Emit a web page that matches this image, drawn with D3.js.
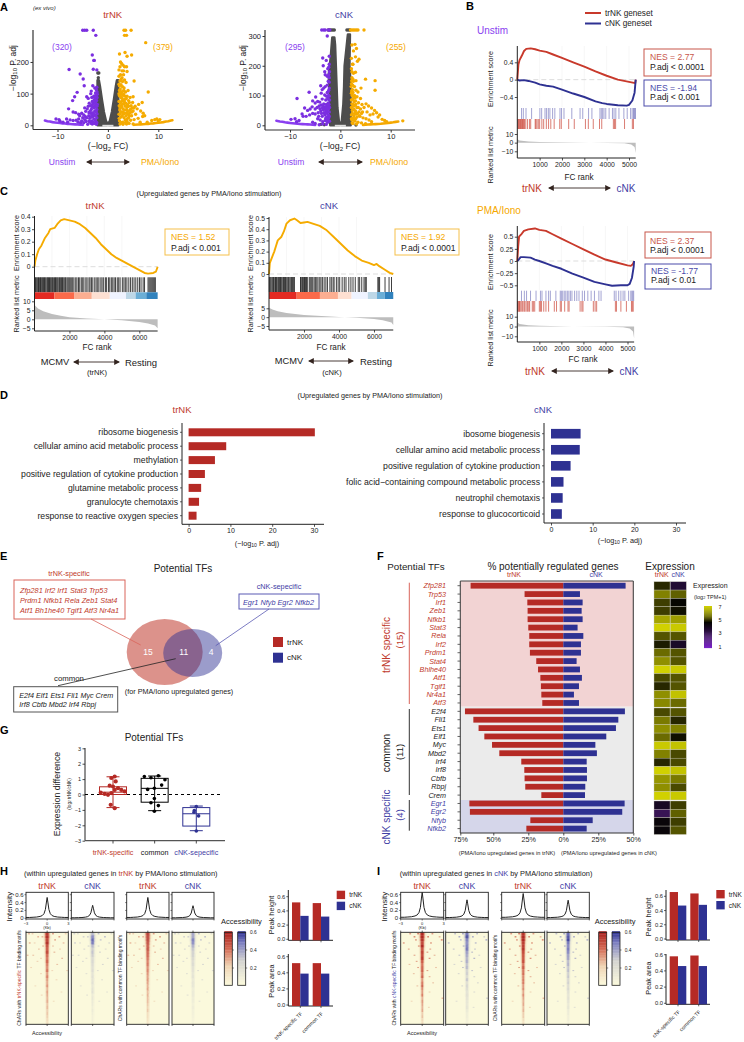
<!DOCTYPE html>
<html><head><meta charset="utf-8">
<script src="https://cdnjs.cloudflare.com/ajax/libs/d3/7.8.5/d3.min.js"></script>
<style>html,body{margin:0;padding:0;background:#fff}svg{display:block}text{font-family:"Liberation Sans",Arial,sans-serif}</style>
</head><body><svg id="c" width="744" height="1042"></svg>
<script>
// ---------- DATA ----------
const trPurple=[[-5,300],[-4.6,300],[-4.2,300],[-2.9,300],[-2.4,284],[-7.7,176],[-5.5,162],[-4.9,146],[-3.1,222],[-2.7,205],[-2.8,205],[-2.2,175],[-2.9,177],[-4.7,125],[-6.1,104],[-6.6,90],[-7,78],[-3.3,108],[-2.2,120],[-3,125],[-2.6,118],[-2.3,112],[-3.4,100],[-4.2,90],[-3.9,85],[-3.2,88],[-2.8,92],[-2.4,95],[-2.1,98],[-7.8,52],[-6.9,42],[-6.4,40],[-5.8,35],[-5.6,30],[-5.2,38],[-4.8,33],[-4.4,44],[-4.5,28],[-4.1,52],[-3.9,60],[-3.7,70],[-3.5,62],[-3.3,50],[-3.1,75],[-3,58],[-2.9,68],[-2.7,80],[-2.6,45],[-2.5,72],[-2.4,58],[-2.3,85],[-2.2,50],[-2.1,66],[-3.8,30],[-3.6,22],[-3.4,38],[-3.2,14],[-3,28],[-2.8,20],[-2.6,32],[-2.4,12],[-2.2,24],[-2.15,36],[-3.6,10],[-4.3,12],[-4.8,8],[-5.4,8],[-2.7,6],[-3.1,4],[-4,3],[-5.8,20],[-6.3,16],[-6.9,15],[-7.5,17],[-8.2,20],[-8.9,10],[-9.7,18],[-10.3,20],[-9.5,13],[-8,10],[-2.15,88],[-2.25,78],[-2.35,68],[-2.55,62],[-2.75,55],[-2.95,40],[-3.15,32],[-3.35,26],[-3.55,44],[-3.75,40],[-2.15,105],[-2.45,102],[-2.65,88],[-2.85,76],[-3.05,66],[-3.25,60],[-2.2,60],[-2.3,42],[-2.45,30],[-2.55,18],[-2.75,36],[-2.95,10],[-3.3,6],[-2.2,8],[-2.3,3],[-4.6,18],[-4.2,24],[-5,24],[-5.2,14],[-5.9,10],[-4.6,55],[-3.7,14]];
const trOrange=[[3.2,300],[3.5,300],[4.6,300],[3.3,284],[3.7,284],[7.5,261],[3.4,230],[2.3,225],[4.7,222],[3.8,218],[2.5,200],[2.7,195],[3,190],[3.3,185],[3.7,185],[2.4,185],[2.2,175],[2.8,172],[3.1,172],[3.8,170],[3.1,160],[2.5,160],[2.2,155],[2.8,150],[3.3,143],[2.4,140],[3.6,135],[2.3,125],[5.2,140],[2.6,128],[2.9,122],[8,105],[3.2,118],[2.3,110],[2.7,105],[3.5,105],[4,110],[3.1,98],[3.8,92],[4.4,88],[2.4,92],[2.8,85],[5,90],[4.9,72],[3.4,82],[4.1,78],[2.5,72],[2.2,75],[3.2,68],[3.9,65],[4.6,62],[5.4,60],[6.1,66],[5.8,52],[6.8,72],[6.5,45],[7,38],[6.9,28],[7.3,30],[5,45],[4.4,48],[3.7,50],[3,52],[2.4,55],[2.7,42],[3.3,38],[4,35],[4.7,30],[5.5,35],[6,22],[5.2,18],[4.5,16],[3.8,20],[3.2,24],[2.6,26],[2.2,35],[2.3,14],[2.9,10],[3.5,8],[4.2,6],[5,4],[3,3],[6.4,10],[8.7,15],[9.3,18],[10,14],[9.7,20],[10.3,18],[7.8,10],[2.2,130],[2.3,95],[2.45,115],[2.55,100],[2.65,88],[2.75,76],[2.85,66],[2.95,95],[3.05,80],[3.15,110],[3.25,75],[3.35,92],[3.45,60],[3.55,70],[3.65,85],[3.75,40],[3.85,58],[3.95,45],[4.1,60],[4.25,72],[4.35,40],[4.55,52],[4.75,42],[4.85,55],[5.15,55],[2.25,62],[2.35,48],[2.45,36],[2.55,62],[2.75,58],[2.85,30],[2.95,42],[3.1,36],[3.3,48],[3.45,16],[3.6,30],[3.8,12],[4.1,24],[4.3,30],[2.25,22],[2.6,8],[2.4,4],[3.7,4],[2.2,100],[2.6,145],[2.9,138],[3,108]];
const trTailL=[[-12.5,15],[-12,13],[-11.5,12],[-11,10],[-10.5,9],[-10,8],[-9.5,7],[-9,6],[-8.5,5.5],[-8,4.5],[-7.5,4],[-7,3.5],[-6.5,3],[-6,2.5],[-5.5,2],[-5,1.5]];
const trTailR=[[5.2,1.5],[6,2.5],[6.5,3],[7,3.5],[7.5,4],[8,4.5],[8.5,5.5],[9,6],[9.5,7],[10,8],[10.5,9],[11,10],[11.5,12],[12,13],[12.5,15],[12.8,16]];
const trGreyL=[[0,2],[-.4,14],[-.8,42],[-1.2,82],[-1.6,125],[-1.8,142],[-2.05,142],[-2.05,0],[-.3,0]];
const trGreyR=[[0,2],[.4,14],[.8,42],[1.2,82],[1.6,125],[1.8,142],[2.05,142],[2.05,0],[.3,0]];
const trGreyDots=[[-1.8,165],[-2,165],[-1.9,150]];
const cnPurple=[[-3.7,320],[-3.3,320],[-3,320],[-2.6,300],[-2.4,320],[-2.1,320],[-3.5,226],[-2.2,232],[-2.8,218],[-2.5,190],[-2.2,205],[-3.4,200],[-3.1,180],[-3,170],[-2.6,165],[-2.3,170],[-8.6,90],[-6.2,111],[-4.9,95],[-3.9,133],[-3.3,125],[-3.6,120],[-3,130],[-2.6,135],[-2.2,145],[-3.8,108],[-3.1,102],[-2.6,110],[-2.3,118],[-5.5,82],[-5,75],[-4.5,80],[-4.1,78],[-3.6,88],[-2.9,85],[-2.5,92],[-2.2,98],[-7.1,58],[-6.5,50],[-6,55],[-5.6,62],[-5,55],[-4.6,60],[-4.2,65],[-3.8,68],[-3.3,72],[-2.8,70],[-2.4,75],[-2.15,60],[-7.6,38],[-7.4,30],[-6.8,30],[-6.1,35],[-5.5,40],[-5,38],[-4.4,42],[-3.9,48],[-3.4,52],[-3,55],[-2.6,48],[-2.2,45],[-3.6,30],[-3.1,35],[-2.7,28],[-2.3,25],[-4.5,22],[-4,18],[-3.5,12],[-3,16],[-2.5,10],[-2.15,14],[-8.2,16],[-9,22],[-9.8,20],[-8.7,12],[-5.5,10],[-5,6],[-3.5,4],[-2.8,3],[-4.2,2],[-2.15,85],[-2.25,70],[-2.35,55],[-2.45,88],[-2.55,65],[-2.65,40],[-2.75,60],[-2.85,50],[-2.95,42],[-3.15,62],[-3.25,42],[-3.45,65],[-3.55,58],[-3.75,40],[-4.05,56],[-4.3,30],[-2.2,30],[-2.35,35],[-2.5,20],[-2.7,14],[-2.9,24],[-2.2,125],[-2.45,112],[-2.75,98],[-2.35,100],[-2.2,160],[-2.4,148],[-2.15,180],[-2.3,195]];
const cnOrange=[[2,320],[2.3,320],[2.6,320],[2.9,320],[3.2,320],[3.5,320],[4.7,320],[2.9,272],[3.2,258],[2.3,270],[2.6,250],[3,230],[2.2,225],[3.4,215],[2.5,205],[3.7,222],[2.2,190],[2.6,175],[3,178],[2.3,160],[3.1,150],[2.6,148],[2.2,140],[6.9,150],[5,155],[6.9,118],[4.1,125],[2.8,130],[3.1,118],[2.4,120],[3.5,112],[2.2,108],[2.8,100],[3.3,96],[4,90],[2.5,88],[3,82],[3.6,76],[2.3,72],[4.3,70],[2.8,66],[3.3,60],[5.1,72],[5.6,65],[6.2,58],[4.7,60],[4,55],[4.4,45],[6.8,50],[7.2,42],[6.5,38],[7.8,35],[7.5,28],[5.3,45],[5.9,35],[3.7,45],[3,48],[2.4,50],[2.2,35],[2.7,32],[3.3,28],[3.9,30],[4.5,25],[5.1,22],[5.7,18],[8.3,20],[8.8,16],[9.2,12],[12.4,15],[2.3,18],[2.9,14],[3.5,10],[2.5,6],[3.2,4],[4.2,8],[6.2,12],[5,5],[2.15,130],[2.25,115],[2.35,100],[2.5,110],[2.65,95],[2.75,80],[2.9,92],[3.05,70],[2.2,85],[2.35,62],[2.55,70],[2.7,55],[2.9,40],[3.15,38],[2.4,40],[2.6,25],[2.2,60],[2.2,22],[2.75,18],[2.35,8],[3.05,22],[3.4,40],[3.55,60],[3.75,32],[4.2,40],[2.25,150],[2.45,135],[2.3,180],[2.5,155],[2.4,205]];
const cnTailL=[[-12.7,15],[-12,13],[-11.5,12],[-11,10],[-10.5,9],[-10,8],[-9.5,7],[-9,6],[-8.5,5.5],[-8,4.5],[-7.5,4],[-7,3.5],[-6.5,3],[-6,2.5],[-5.5,2],[-5,1.5]];
const cnTailR=[[4.5,1.5],[5,2],[5.5,2.5],[6,3],[6.5,3.5],[7,4],[7.5,4.5],[8,5],[8.5,6],[9,7],[9.5,8],[10,9],[10.5,10],[11,11.5],[11.5,12.5]];
const cnGreyL=[[0,2],[-.3,15],[-.6,60],[-.75,130],[-.9,200],[-1.05,270],[-1.2,295],[-1.6,295],[-1.9,230],[-2.3,170],[-2.2,130],[-2.05,100],[-2,0],[-.3,0]];
const cnGreyR=[[0,2],[.3,15],[.6,70],[.75,130],[.85,200],[1.1,240],[1.5,305],[1.9,305],[1.8,200],[2,150],[2.05,0],[.3,0]];
const cnGreyDots=[[-1.2,320],[-1.5,320],[-1.8,320],[-2.1,320],[-2.4,320],[1.3,320],[1.6,320],[1.9,320],[-3.9,3],[-3.2,2],[3.1,1]];

const esUnstimTr=[[0,0],[50,.35],[100,.45],[200,.55],[300,.66],[400,.71],[600,.72],[800,.70],[1000,.67],[1300,.64],[1600,.58],[2000,.50],[2500,.40],[3000,.30],[3500,.19],[4000,.09],[4500,.0],[5000,-.05],[5280,-.08],[5300,0]];
const esUnstimCn=[[0,0],[100,-.02],[300,-.01],[500,-.03],[800,-.07],[1000,-.11],[1300,-.14],[1600,-.16],[2000,-.23],[2500,-.32],[3000,-.40],[3500,-.50],[3800,-.54],[4000,-.56],[4500,-.59],[4900,-.6],[5000,-.58],[5150,-.48],[5250,-.3],[5300,0]];
const esPmaTr=[[0,0],[40,.3],[80,.5],[200,.56],[300,.62],[500,.65],[800,.67],[1000,.64],[1300,.62],[1600,.55],[2000,.46],[2500,.35],[3000,.24],[3500,.13],[4000,.03],[4500,-.03],[5000,-.09],[5150,-.1],[5250,-.06],[5300,0]];
const esPmaCn=[[0,0],[50,.02],[150,.08],[300,.08],[600,.07],[800,.03],[1000,0],[1300,-.05],[1600,-.1],[2000,-.16],[2500,-.26],[3000,-.34],[3500,-.43],[4000,-.48],[4300,-.51],[4700,-.5],[5000,-.5],[5100,-.47],[5200,-.35],[5280,-.12],[5300,0]];
const rugUnstimCn=[190,270,390,640,1010,1090,1240,1310,1390,1460,1580,1680,1910,1980,2090,2440,2810,2930,3190,3340,3700,3760,3820,3880,3960,4110,4260,4330,4410,4550,4770,4920,5070,5140,5200,5230,5260,5290];
const rugUnstimTr=[20,50,80,110,140,170,200,230,260,290,320,380,460,550,600,800,830,880,940,1000,1100,1180,1300,1400,1500,1650,1900,1970,2300,2550,3050,3180,3400,3680,3780,4300,4350,4400,4800,5150,5200];
const rugPmaCn=[190,320,420,600,850,1050,1120,1300,1420,1500,1750,1950,2000,2060,2130,2200,2270,2340,2410,2480,2600,2700,2800,2950,3050,3200,3350,3500,3700,3800,4400,4480,4600,4700,4800,4880,5050,5150,5200,5240,5280];
const rugPmaTr=[10,40,70,100,130,180,240,300,340,400,460,520,560,680,730,790,1000,1050,1100,1200,1300,1420,1680,1780,1950,2000,2150,2300,2350,2850,2930,2980,3450,3530,3600,4450,4500,4700,4950,5180,5220,5260];
const esTrC=[[0,0],[50,.05],[150,.1],[250,.14],[400,.17],[600,.23],[800,.27],[900,.30],[1150,.31],[1300,.34],[1500,.37],[1700,.38],[2000,.37],[2300,.36],[2600,.34],[2900,.31],[3200,.27],[3500,.23],[3800,.18],[4100,.14],[4400,.10],[4700,.07],[5100,.04],[5500,.01],[5900,-.02],[6300,-.05],[6500,-.055],[6800,-.05],[6950,-.04],[7050,0]];
const esCnC=[[0,0],[50,.1],[150,.14],[300,.2],[400,.25],[500,.3],[700,.33],[850,.38],[1000,.45],[1200,.48],[1450,.495],[1600,.48],[1800,.455],[2000,.46],[2200,.465],[2500,.45],[2900,.43],[3300,.39],[3700,.33],[4100,.27],[4500,.21],[4900,.16],[5300,.12],[5700,.10],[6000,.08],[6150,.09],[6300,.07],[6600,.04],[6900,.01],[7100,0]];
const rugTrC=[10,50,90,140,190,230,280,340,370,420,470,510,570,610,660,720,760,800,860,900,950,1000,1040,1100,1150,1200,1240,1290,1340,1400,1440,1500,1540,1600,1640,1700,1760,1800,1870,1930,1990,2050,2130,2190,2260,2360,2430,2520,2590,2680,2760,2830,2940,3010,3120,3180,3260,3340,3450,3530,3620,3690,3800,3870,3960,4060,4130,4240,4310,4400,4480,4560,4640,4740,4820,4900,5030,5120,5200,5290,5400,5500,5600,5700,5800,5910,6010,6100,6220,6300,6500,6560,6620,6680,6740,6800,6860,6920];
const rugCnC=[20,60,110,170,220,260,330,370,420,460,520,560,610,650,690,740,800,840,880,940,980,1040,1100,1140,1200,1260,1300,1350,1410,1450,1800,1840,1900,1940,1990,2030,2090,2140,2190,2300,2360,2440,2500,2580,2650,2730,2800,2900,2970,3050,3150,3250,3340,3480,3560,3660,3720,3850,3950,4040,4180,4300,4400,4560,4680,4800,4930,5100,5180,5300,5430,5500,5560,6220,6270,6320,6630,6860,7000];
const bandTrC=[0,1140,2290,3280,4310,5240,5790,6400,7050];
const bandCnC=[0,1580,2910,3940,4720,5650,6170,6610,7100];
const bandColors=['#e32a22','#fb6a4a','#fcae91','#fee0d2','#eff3ff','#bdd7e7','#6baed6','#3182bd'];
const metricB=[[0,4],[100,2.5],[500,1.2],[1000,.7],[2500,.1],[4000,-.3],[4800,-.8],[5100,-2],[5250,-5],[5300,-12]];
const metricTrC=[[0,8],[200,6],[500,4.5],[1000,3],[1500,2],[2000,1.2],[3000,.5],[4000,0],[5000,-.5],[6000,-1.5],[6500,-2.3],[6900,-3.5],[7050,-5]];
const metricCnC=[[0,5.3],[200,4.3],[500,3.3],[1000,2.3],[2000,1.2],[3000,.6],[4000,.05],[5000,-.4],[6000,-1],[6500,-1.7],[7000,-3],[7100,-4.5]];

const goTr=['ribosome biogenesis','cellular amino acid metabolic process','methylation','positive regulation of cytokine production','glutamine metabolic process','granulocyte chemotaxis','response to reactive oxygen species'];
const goTrVals=[30.2,9,6.3,3.9,3,2.5,1.9];
const goCn=['ibosome biogenesis','cellular amino acid metabolic process','positive regulation of cytokine production','folic acid\u2212containing compound metabolic process','neutrophil chemotaxis','response to glucocorticoid'];
const goCnVals=[7.1,6.9,4.7,3,2.8,2.6];

const tfNames=['Zfp281','Trp53','Irf1','Zeb1','Nfkb1','Stat3','Rela','Irf2','Prdm1','Stat4','Bhlhe40','Atf1','Tgif1','Nr4a1','Atf3','E2f4','Fli1','Ets1','Elf1','Myc','Mbd2','Irf4','Irf8','Cbfb','Rbpj','Crem','Egr1','Egr2','Nfyb','Nfkb2'];
const tfTrPct=[67.5,28.2,26.2,26,26,25.5,24.8,24.8,24.3,19.7,18.4,16.7,16.3,16,15.3,71.6,65.5,61.7,57.5,51.9,46.6,30.6,28.4,28.2,27.7,16,68.4,68,24,26.9];
const tfCnPct=[44.5,11.9,13.8,13.1,13.8,10.2,14.3,12.6,12.6,9.5,11.9,13.3,11.2,7.6,11.2,44,39.3,37.6,30.7,22.9,24,16.7,16.9,16.9,15.7,15.5,43.8,42.1,21,16.7];
const exprTr=[4.9,5.8,5.1,5.1,6.3,6.9,5.3,4.8,5.5,6,6.9,5.2,4.9,6,5.9,5.2,5.7,6,5.5,6.8,5.8,4.9,6.9,6.1,6,6.9,3.9,3,4.4,4.4];
const exprCn=[3.6,5.4,4.6,4.7,6.2,6.8,5.3,3.8,5.3,5.3,6.8,5.3,5.3,6.7,5.5,5.3,4.9,5.8,4.7,6.7,5.2,5.2,6.7,5.7,5.2,6.8,5.1,5.4,5.1,5.3];

const gTrPts=[[1.7,1.17],[-1.7,1.07],[2.7,.85],[-3.3,.57],[0,.52],[5,.41],[1.7,.3],[8.3,.3],[11.7,.2],[-12.3,.13],[-8.3,.04],[-5,-.02],[-1.7,.09],[-2.3,-.67],[1.7,-.89]];
const gCoPts=[[-10.3,1.17],[-3.7,1.09],[3.7,1.22],[10.3,.96],[7,.61],[-7,.33],[-.3,.41],[-.3,-.26],[-3.7,-.54],[3.7,-.72],[-.3,-1.09]];
const gCnPts=[[0,-.78],[-2,-1.04],[-2.3,-1.15],[2.3,-1.39],[0,-2.37]];
const gBoxes=[{q1:0,med:.15,q3:.5,lo:-.85,hi:1.15},{q1:-.5,med:.4,q3:1.05,lo:-1.05,hi:1.2},{q1:-2.05,med:-1.25,q3:-.85,lo:-2.35,hi:-.75}];
const gCats=['trNK-specific','common','cNK-sepecific'];

const peakKb=[-3,-2.5,-2,-1.5,-1,-.7,-.45,-.25,-.1,0,.1,.25,.45,.7,1,1.5,2,2.5,3];
const peakShape=[.04,.04,.05,.06,.09,.13,.22,.42,.78,1,.78,.42,.22,.13,.09,.06,.05,.04,.04];
const peakH=[.53,.33,.53,.32];
const peakI=[.66,.47,.63,.46];
const hmHTr1=[.95,1,.9,1,.85,.8,.9,.75,.7,.8,.7,.65,.75,.6,.7,.6,.55,.65,.5,.6,.55,.5,.55,.45,.5,.4,.45,.4,.35,.3];
const hmHCn1=[.6,.8,.9,.85,.6,.5,.55,.5,.4,.45,.4,.35,.4,.3,.35,.3,.35,.25,.3,.35,.2,.25,.2,.2,.15,.2,.15,.12,.12,.1];
const hmHTr2=[1,.95,.95,.9,.85,.9,.8,.8,.75,.7,.75,.65,.7,.65,.6,.65,.6,.55,.6,.5,.55,.5,.5,.45,.4,.45,.35,.35,.3,.25];
const hmHCn2=[.7,.7,.85,.8,.65,.55,.5,.5,.45,.4,.45,.35,.35,.3,.35,.25,.3,.3,.2,.25,.25,.2,.2,.15,.2,.15,.15,.12,.1,.08];
const hmITr1=[1,1,.95,.85,1,.8,.9,.85,.95,.8,.7,.75,.8,.7,.8,.6,.7,.8,.65,.6,.7,.5,.6,.55,.5,.55,.4,.45,.35,.3];
const hmICn1=[.9,1,.85,.8,.85,.9,.75,.7,.65,.7,.6,.65,.5,.55,.45,.6,.4,.5,.45,.35,.4,.35,.3,.3,.35,.25,.2,.2,.15,.12];
const hmITr2=[.95,1,1,.9,.9,.95,.85,.8,.8,.85,.7,.8,.7,.75,.65,.7,.7,.6,.65,.55,.65,.55,.5,.55,.45,.5,.4,.4,.3,.25];
const hmICn2=[.9,.95,1,.85,.8,.85,.8,.7,.7,.6,.65,.55,.6,.5,.55,.45,.5,.4,.45,.35,.3,.35,.3,.25,.3,.2,.2,.15,.15,.1];
const hmHalfWidth=[.34,.34,.32,.3,.28,.27,.26,.25,.24,.23,.22,.22,.21,.2,.2,.19,.19,.18,.18,.17,.17,.16,.16,.15,.15,.15,.14,.14,.14,.14];
const speckH=[[-2.7,0,.5],[-2.2,0,.4],[-1.4,1,.5],[1.6,1,.6],[2.5,0,.4],[-2.6,3,.5],[-1.9,3,.35],[1,2,.55],[2.2,3,.45],[-1.3,5,.4],[1.7,5,.35],[-2.9,7,.45],[-2.1,7,.4],[.9,6,.45],[2,8,.45],[-1.5,9,.35],[1.3,10,.4],[-2.4,11,.3],[2.7,12,.35],[-1,13,.3],[1.2,15,.3],[-1.8,17,.25],[1.9,19,.25],[-.9,20,.3],[.8,22,.25],[-.8,1,.5],[.7,0,.6],[-.7,4,.45],[.7,4,.4],[-1,8,.35],[.6,12,.3]];
const speckI=[[-1.8,0,.6],[-1.2,1,.7],[1.3,0,.6],[2.3,1,.5],[-2.7,3,.6],[-1,2,.6],[1.1,3,.6],[2.6,2,.7],[-2,5,.5],[1,5,.5],[-1.2,7,.5],[1.6,7,.45],[-.9,9,.5],[.9,8,.6],[-1.9,10,.4],[1.8,11,.4],[-1.3,13,.4],[.9,14,.45],[1.4,16,.4],[-.8,17,.4],[.9,19,.35],[2.7,21,.5],[-1.6,22,.3],[.8,24,.3],[-.7,0,.7],[.7,1,.7],[-.6,4,.6],[.6,6,.55],[-.7,11,.5],[.6,12,.5]];
const barTicks=[0,.2,.4,.6];
const barHHeight=[.52,.33,.51,.32], barHArea=[.52,.39,.52,.39];
const barIHeight=[.66,.47,.64,.48], barIArea=[.58,.46,.59,.46];

// ---------- HELPERS ----------
const RED='#c0392b',BAR_R='#b52a25',BLUE='#3f40a5',BAR_B='#2e3192',PUR='#8a3ff0',ORG='#f5a800',DK='#222';
const svg=d3.select('#c');
function T(x,y,s,o={}){
  const t=svg.append('text').attr('x',x).attr('y',y).attr('font-size',o.size||7).attr('fill',o.fill||DK)
    .attr('text-anchor',o.anchor||'middle').attr('dominant-baseline','central');
  if(o.weight)t.attr('font-weight',o.weight); if(o.italic)t.attr('font-style','italic');
  if(o.rot!=null)t.attr('transform',`rotate(${o.rot} ${x} ${y})`);
  if(Array.isArray(s)) s.forEach(p=>{const ts=t.append('tspan').text(p.t); if(p.fill)ts.attr('fill',p.fill);
     if(p.sub)ts.attr('font-size',(o.size||7)*.7).attr('dy',(o.size||7)*.25);
     if(p.after)ts.attr('dy',-(o.size||7)*.25);});
  else t.text(s);
  return t;
}
function L(x1,y1,x2,y2,c=DK,w=1,dash){const l=svg.append('line').attr('x1',x1).attr('y1',y1).attr('x2',x2).attr('y2',y2).attr('stroke',c).attr('stroke-width',w);if(dash)l.attr('stroke-dasharray',dash);return l;}
function R(x,y,w,h,f,s,sw=1){return svg.append('rect').attr('x',x).attr('y',y).attr('width',w).attr('height',h).attr('fill',f||'none').attr('stroke',s||'none').attr('stroke-width',sw);}
svg.append('defs').append('marker').attr('id','ah').attr('viewBox','0 0 10 10').attr('refX',8).attr('refY',5).attr('markerWidth',6).attr('markerHeight',6).attr('orient','auto-start-reverse').append('path').attr('d','M0,0L10,5L0,10z').attr('fill','#33241f');
function arrow(x1,x2,y){L(x1,y,x2,y,'#4a3d38',1).attr('marker-end','url(#ah)').attr('marker-start','url(#ah)');}
function axis(kind,scale,x,y,vals,fmt,size=6,col=DK,sw=.8,tick=2.5){
  const a=(kind==='b'?d3.axisBottom:d3.axisLeft)(scale).tickValues(vals).tickSize(tick).tickPadding(1.5).tickFormat(fmt||(d=>String(d).replace('-','\u2212')));
  const g=svg.append('g').attr('transform',`translate(${x},${y})`).call(a);
  g.selectAll('text').attr('font-size',size).attr('fill',DK);
  g.selectAll('line,path').attr('stroke',col).attr('stroke-width',sw);
  return g;
}
const panel=(s,x,y)=>T(x,y,s,{size:11,weight:'bold',anchor:'start',fill:'#000'});

// ---------- A ----------
function volcano(o){
  const x=d3.scaleLinear().domain([-10,10]).range(o.xr), y=d3.scaleLinear().domain(o.yd).range(o.yr);
  const ln=d3.line().x(d=>x(d[0])).y(d=>y(d[1]));
  const poly=(d,c)=>svg.append('path').attr('d',ln(d)+'Z').attr('fill',c).attr('stroke',c).attr('stroke-width',2.5).attr('stroke-linejoin','round');
  poly(o.gl,'#4d4d4d');poly(o.gr,'#4d4d4d');
  svg.selectAll(null).data(o.gd).enter().append('circle').attr('cx',d=>x(d[0])).attr('cy',d=>y(d[1])).attr('r',1.7).attr('fill','#4d4d4d');
  R(x(-1.1),y(0)-.5,x(1.1)-x(-1.1),2,'#ddd');
  const tail=(d,c)=>svg.append('path').attr('d',ln(d)).attr('fill','none').attr('stroke',c).attr('stroke-width',2.6).attr('stroke-linecap','round');
  tail(o.tl,PUR);tail(o.tr,ORG);
  const pts=(d,c)=>svg.selectAll(null).data(d).enter().append('circle').attr('cx',p=>x(p[0])).attr('cy',p=>y(p[1])).attr('r',1.7).attr('fill',c);
  pts(o.p,'#7b2fe0');pts(o.a,'#f5ab00');
  L(o.ax0,o.axy,o.ax1,o.axy,'#333',1.2);L(o.ax0,30,o.ax0,o.axy,'#333',1.2);
  axis('b',x,0,o.axy,[-10,0,10],null,7.5,'#333',1);
  axis('l',y,o.ax0,0,o.yt,null,7.5,'#333',1);
  svg.selectAll('g path.domain').attr('stroke','none');
}
panel('A',0,7);
T(33,8,'(ex vivo)',{size:6,italic:true,anchor:'start'});
T(112.7,14,'trNK',{size:9.5,fill:RED});T(344,14,'cNK',{size:9.5,fill:BLUE});
volcano({xr:[57.5,158.3],yd:[0,300],yr:[125.3,30.3],gl:trGreyL,gr:trGreyR,gd:trGreyDots,tl:trTailL,tr:trTailR,p:trPurple,a:trOrange,ax0:33,ax1:183,axy:129.5,yt:[0,100,200]});
volcano({xr:[290,390.7],yd:[0,300],yr:[125.3,36],gl:cnGreyL,gr:cnGreyR,gd:cnGreyDots,tl:cnTailL,tr:cnTailR,p:cnPurple,a:cnOrange,ax0:265,ax1:415,axy:130,yt:[0,100,200,300]});
T(62,47,'(320)',{size:8.5,fill:PUR});T(163,47,'(379)',{size:8.5,fill:ORG});T(295,47,'(295)',{size:8.5,fill:PUR});T(396,47,'(255)',{size:8.5,fill:ORG});
[[13,68],[243,68]].forEach(p=>T(p[0],p[1],[{t:'\u2212log'},{t:'10',sub:1},{t:' P. adj',after:1}],{size:8.5,rot:-90}));
[[108,146],[340,146]].forEach(p=>T(p[0],p[1],[{t:'(\u2212log'},{t:'2',sub:1},{t:' FC)',after:1}],{size:8.8}));
T(62,162,'Unstim',{size:8.5,fill:PUR});T(160,162,'PMA/Iono',{size:8.7,fill:ORG});arrow(87,129,162);
T(291,162,'Unstim',{size:8.5,fill:PUR});T(389,162,'PMA/Iono',{size:8.7,fill:ORG});arrow(319,362,162);

// ---------- B ----------
function gsea(o){
  const x=d3.scaleLinear().domain([0,o.xd1]).range([o.x0,o.x1]);
  const y=d3.scaleLinear().domain(o.esd).range(o.esr);
  const my=d3.scaleLinear().domain(o.md).range(o.mr);
  [1000,2000,3000,4000,5000].filter(v=>v<=o.xmax).forEach(v=>L(x(v),o.top,x(v),o.rug0,'#f3f3f3',.7));
  L(x(0),y(0),x(o.xmax),y(0),'#ddd',1,'5,3');
  const ln=d3.line().x(d=>x(d[0])).y(d=>y(d[1]));
  o.curves.forEach(c=>svg.append('path').attr('d',ln(c.d)).attr('fill','none').attr('stroke',c.c).attr('stroke-width',1.9).attr('stroke-linejoin','round'));
  o.rugs.forEach(r=>svg.selectAll(null).data(r.d).enter().append('line').attr('x1',d=>x(d)).attr('x2',d=>x(d)).attr('y1',r.y0).attr('y2',r.y1).attr('stroke',r.c).attr('stroke-width',r.w||1).attr('opacity',r.o||.6));
  if(o.band){o.band.forEach((b,i)=>{if(i<o.band.length-1)R(x(b),o.bandY[0],x(o.band[i+1])-x(b),o.bandY[1]-o.bandY[0],bandColors[i]);});}
  const area=d3.area().x(d=>x(d[0])).y0(my(0)).y1(d=>my(d[1]));
  svg.append('path').attr('d',area(o.metric)).attr('fill','#bdbdbd');
  L(x(0),o.top,x(0),o.bottom,'#222',1);L(x(0),o.bottom,x(o.xmax),o.bottom,'#222',1);
  axis('l',y,x(0),0,o.est,o.esf,6.8,'#222',.8);
  axis('l',my,x(0),0,o.mt,null,6.8,'#222',.8);
  axis('b',x,0,o.bottom,o.xt,null,6.8,'#222',.8);
  svg.selectAll('g path.domain').attr('stroke','none');
}
function box(x,y,w,h,c,a,b,ax,ay,by){R(x,y,w,h,'#fff',c,1);T(ax,ay,a,{size:8.6,fill:c,anchor:'start'});T(ax,by,b,{size:8.6,fill:DK,anchor:'start'});}
panel('B',466,6);
L(585,13,601,13,'#c8392b',2);T(605,13,'trNK geneset',{size:8.2,anchor:'start'});
L(585,23.5,601,23.5,'#2e3192',2);T(605,23.5,'cNK geneset',{size:8.2,anchor:'start'});
T(477,30,'Unstim',{size:10,fill:PUR,anchor:'start'});
const xt5=[1000,2000,3000,4000,5000];
gsea({x0:517.3,x1:629,xd1:5000,xmax:5300,top:46,rug0:107,bottom:158,esd:[.4,-.4],esr:[62.3,97],est:[.4,0,-.4],esf:d=>d===0?'0':String(d).replace('-','\u2212'),md:[10,-10],mr:[134,151.3],mt:[10,0,-10],xt:xt5,
 curves:[{d:esUnstimTr,c:'#c8392b'},{d:esUnstimCn,c:'#2e3192'}],
 rugs:[{d:rugUnstimCn,c:'#6a6ab8',y0:108,y1:119},{d:rugUnstimTr,c:'#c8392b',y0:119,y1:129,o:.65}],metric:metricB});
T(490,79,'Enrichment score',{size:7.2,rot:-90});T(490,155,'Ranked list metric',{size:7.2,rot:-90});
T(579,177,'FC rank',{size:8.2});
T(532,188,'trNK',{size:10,fill:RED});T(626,188,'cNK',{size:10,fill:BLUE});arrow(549,610,188);
box(644,49,67,27,'#c8574b','NES = 2.77','P.adj < 0.0001',650,57,67);
box(644,80,67,26,'#4a4aaa','NES = -1.94','P.adj < 0.001',650,88,97);
T(477,210,'PMA/Iono',{size:10,fill:ORG,anchor:'start'});
gsea({x0:517.3,x1:627.5,xd1:5000,xmax:5300,top:226,rug0:290,bottom:342,esd:[.5,-.5],esr:[236.7,285.3],est:[.5,.25,0,-.25,-.5],esf:d=>(d===0?'0':(d+'').replace('-','\u2212')),md:[10,-10],mr:[316.7,336.3],mt:[10,0,-10],xt:xt5,
 curves:[{d:esPmaTr,c:'#c8392b'},{d:esPmaCn,c:'#2e3192'}],
 rugs:[{d:rugPmaCn,c:'#6a6ab8',y0:290.7,y1:301},{d:rugPmaTr,c:'#c8392b',y0:301,y1:311.7,o:.65}],metric:metricB});
T(490,262,'Enrichment score',{size:7.2,rot:-90});T(490,338,'Ranked list metric',{size:7.2,rot:-90});
T(583,359,'FC rank',{size:8.2});
T(535,371,'trNK',{size:10,fill:RED});T(629,371,'cNK',{size:10,fill:BLUE});arrow(552,613,371);
box(645,232,66,26,'#c8574b','NES = 2.37','P.adj < 0.0001',650,241,250);
box(645,264,66,25,'#4a4aaa','NES = -1.77','P.adj < 0.01',651,271,280);

// ---------- C ----------
panel('C',0,191);
T(209,193,'(Upregulated genes by PMA/Iono stimulation)',{size:7.2});
T(95,205,'trNK',{size:9.5,fill:RED});T(329,205,'cNK',{size:9.5,fill:BLUE});
gsea({x0:34.5,x1:139.3,xd1:6000,xmax:7050,top:216,rug0:276,bottom:331,esd:[.4,0],esr:[216.7,266.7],est:[.4,.3,.2,.1,0],esf:d=>d===0?'0':d3.format('.1f')(d),md:[10,0],mr:[301.3,319.3],mt:[10,5,0,-5],xt:[2000,4000,6000],
 curves:[{d:esTrC,c:'#f5ab00'}],rugs:[{d:rugTrC,c:'#111',y0:277.3,y1:292.3,o:.8}],band:bandTrC,bandY:[292.3,299],metric:metricTrC});
gsea({x0:269,x1:374,xd1:6000,xmax:7100,top:217,rug0:276,bottom:330,esd:[.5,0],esr:[218,274],est:[.5,.4,.3,.2,.1,0],esf:d=>d===0?'0':d3.format('.1f')(d),md:[5,-5],mr:[308.3,326],mt:[5,0,-5],xt:[2000,4000,6000],
 curves:[{d:esCnC,c:'#f5ab00'}],rugs:[{d:rugCnC,c:'#111',y0:277,y1:292,o:.8}],band:bandCnC,bandY:[292,299],metric:metricCnC});
T(16,243,'Enrichment score',{size:7.2,rot:-90});T(16,304,'Ranked list metric',{size:7.2,rot:-90});
T(250,243,'Enrichment score',{size:7.2,rot:-90});T(250,304,'Ranked list metric',{size:7.2,rot:-90});
T(97,347.7,'FC rank',{size:8.2});T(331,347.7,'FC rank',{size:8.2});
T(55,362,'MCMV',{size:9.3});T(141,362,'Resting',{size:9.5});arrow(74,119,362);T(97,372,'(trNK)',{size:7.6});
T(289,361,'MCMV',{size:9.3});T(376,361,'Resting',{size:9.5});arrow(309,353,361);T(332,372,'(cNK)',{size:7.6});
function oBox(x,w,a,b){R(x,229,w,26,'#fff','#f5c04a',1);T(x+6,237,a,{size:8.6,fill:ORG,anchor:'start'});T(x+6,248,b,{size:8.6,anchor:'start'});}
oBox(165,64,'NES = 1.52','P.adj < 0.001');oBox(395,64,'NES = 1.92','P.adj < 0.0001');

// ---------- D ----------
panel('D',0,395);
T(370,395,'(Upregulated genes by PMA/Iono stimulation)',{size:7.2});
T(182,409,'trNK',{size:9.5,fill:RED});T(543,409,'cNK',{size:9.5,fill:BLUE});
function goBars(names,vals,o){
  const x=d3.scaleLinear().domain([0,30]).range(o.xr);
  const y=d3.scalePoint().domain(names).range(o.yr);
  L(o.ax,o.top,o.ax,o.axy,'#222',1);L(o.ax,o.axy,o.ax1,o.axy,'#222',1);
  svg.selectAll(null).data(names).enter().append('rect').attr('x',x(0)).attr('y',d=>y(d)-o.h/2).attr('height',o.h).attr('width',(d,i)=>x(vals[i])-x(0)).attr('fill',o.c);
  names.forEach(n=>{L(o.ax-2,y(n),o.ax,y(n),'#222',.7);T(o.ax-4,y(n),n,{size:8.7,anchor:'end',fill:'#222'});});
  axis('b',x,0,o.axy,[0,10,20,30],null,7,'#222',.8);
  svg.selectAll('g path.domain').attr('stroke','none');
}
goBars(goTr,goTrVals,{xr:[188.6,314],yr:[432.3,515.7],ax:182,ax1:324,top:423,axy:524.3,h:8,c:BAR_R});
goBars(goCn,goCnVals,{xr:[551,676],yr:[433.7,514],ax:544,ax1:686,top:423,axy:523,h:9.6,c:BAR_B});
T(257,543,[{t:'(\u2212log'},{t:'10',sub:1},{t:' P. adj)',after:1}],{size:7.3});
T(620,540,[{t:'(\u2212log'},{t:'10',sub:1},{t:' P. adj)',after:1}],{size:7.3});

// ---------- E ----------
panel('E',0,556);
T(183,568,'Potential TFs',{size:10});
T(69,573,'trNK-specific',{size:7.3,fill:RED});
R(14,580,111,39,'none','#d9655a',1);
['Zfp281 Irf2 Irf1 Stat3 Trp53','Prdm1 Nfkb1 Rela Zeb1 Stat4','Atf1 Bh1he40 Tgif1 Atf3 Nr4a1'].forEach((s,i)=>T(20,590.7+i*10,s,{size:7.3,italic:true,fill:RED,anchor:'start'}));
T(279,586,'cNK-sepecific',{size:7.3,fill:BLUE});
R(239,594,80,15,'none','#5a5ab4',1);T(243,602,'Egr1 Nfyb Egr2 Nfkb2',{size:7.3,italic:true,fill:BLUE,anchor:'start'});
svg.append('ellipse').attr('cx',164.7).attr('cy',652).attr('rx',38).attr('ry',33).attr('fill','#c0392b').attr('opacity',.55);
svg.append('ellipse').attr('cx',192.7).attr('cy',653).attr('rx',29.5).attr('ry',24).attr('fill','#2e3192').attr('opacity',.48);
T(148,651.7,'15',{size:8.5,fill:'#fff'});T(183.7,651.7,'11',{size:8.5,fill:'#fff'});T(211,651.7,'4',{size:8.5,fill:'#fff'});
L(91,619,140.7,645,'#d9655a',.8);L(269,609,215.7,645.7,'#5a5ab4',.8);L(175.7,658.7,58,685.7,'#222',.8);
T(69,678,'common',{size:7.8});
R(13.7,686.7,104,25.3,'none','#555',1);
['E2f4 Elf1 Ets1 Fli1 Myc Crem','Irf8 Cbfb Mbd2 Irf4 Rbpj'].forEach((s,i)=>T(19.3,695+i*9,s,{size:7.2,italic:true,anchor:'start'}));
T(179,691,'(for PMA/Iono upregulated genes)',{size:7.2});
R(273,637,10,10,BAR_R);T(287,642,'trNK',{size:8,anchor:'start'});
R(273,652.7,10,10,BAR_B);T(287,657.7,'cNK',{size:8,anchor:'start'});

// ---------- F ----------
panel('F',377,556);
T(416,566,'Potential TFs',{size:9.8});T(553,566,'% potentially regulated genes',{size:10});T(670,566,'Expression',{size:10});
T(514,574,'trNK',{size:7,fill:RED});T(596,574,'cNK',{size:7,fill:BLUE});
T(661.7,574,'trNK',{size:7,fill:RED});T(678,574,'cNK',{size:7,fill:BLUE});
const fx=d3.scaleLinear().domain([-75,-50,-25,0,25,50]).range([460.3,493.3,528.3,563.3,598.3,633.3]);
const fy=d3.scaleLinear().domain([0,29]).range([585.7,828.6]);
const fbx=d3.scaleLinear().domain([0,-75]).range([563.3,460.3]);
R(460.3,581,173,125.7,'#f2d3d3');R(460.3,706.7,173,93.3,'#ebebeb');R(460.3,800,173,33,'#d5d6ea');
svg.selectAll(null).data(tfNames).enter().append('rect').attr('x',(d,i)=>fbx(-tfTrPct[i])).attr('y',(d,i)=>fy(i)-2.9).attr('height',5.8).attr('width',(d,i)=>563.3-fbx(-tfTrPct[i])).attr('fill',BAR_R);
svg.selectAll(null).data(tfNames).enter().append('rect').attr('x',563.3).attr('y',(d,i)=>fy(i)-2.9).attr('height',5.8).attr('width',(d,i)=>(tfCnPct[i])*1.4).attr('fill',BAR_B);
tfNames.forEach((n,i)=>{const c=i<15?RED:i<26?'#222':BLUE;T(446,fy(i),n,{size:7.2,italic:true,fill:c,anchor:'end'});L(457.5,fy(i),460.3,fy(i),'#222',.7);});
L(460.3,581,460.3,833,'#444',1.1);L(460.3,581,633.3,581,'#444',1.1);L(633.3,581,633.3,833,'#444',1.1);L(460.3,833,633.3,833,'#333',1);
axis('b',fx,0,833,[-75,-50,-25,0,25,50],d=>Math.abs(d)+'%',7.2,'#222',.8);
svg.selectAll('g path.domain').attr('stroke','none');
L(409.3,582.7,409.3,704,'#d9655a',1);L(409.3,709,409.3,795,'#333',1);L(409.3,800,409.3,830.7,'#333',1);
T(386.7,645,'trNK specific',{size:10,fill:RED,rot:-90});T(399,640,'(15)',{size:9.5,fill:RED,rot:-90});
T(386,753,'common',{size:10,rot:-90});T(399,752,'(11)',{size:9.5,rot:-90});
T(386,817,'cNK specific',{size:10,fill:BLUE,rot:-90});T(399,815,'(4)',{size:9.5,fill:BLUE,rot:-90});
T(507,852.7,'(PMA/Iono upregulated genes in trNK)',{size:5.7});T(609,852.7,'(PMA/Iono upregulated genes in cNK)',{size:5.7});
const exprColor=d3.scaleLinear().domain([1,2.5,3.8,4.6,5.5,7]).range(['#7a22c8','#4a1a70','#1a0a28','#050500','#6b6b00','#d8d800']);
const hmY=i=>{const off=i<15?581.7:i<26?708-15*8.36:801-26*8.36;return off+i*8.36;};
[[654,exprTr],[670.3,exprCn]].forEach(a=>{svg.selectAll(null).data(a[1]).enter().append('rect').attr('x',a[0]).attr('y',(d,i)=>hmY(i)).attr('width',16).attr('height',8.36).attr('fill',d=>exprColor(d)).attr('stroke','#c8c8b8').attr('stroke-width',.35);});
T(693,585,'Expression',{size:7,anchor:'start'});
T(694,597,[{t:'(log'},{t:'2',sub:1},{t:' TPM+1)',after:1}],{size:5.5,anchor:'start'});
const fcb=d3.scaleLinear().domain([1,7]).range([647.7,606]);
d3.range(1,7,.15).forEach(v=>R(704,fcb(v+.15),8,fcb(v)-fcb(v+.15)+.4,exprColor(v)));
[7,5,3,1].forEach((v,i)=>T(720,[607,620,633,647][i],v,{size:5.5}));

// ---------- G ----------
panel('G',0,730);
T(154,737,'Potential TFs',{size:10});
const gy=d3.scaleLinear().domain([3,-3]).range([748.3,840.7]);
const gx=d3.scalePoint().domain(gCats).range([113,196.3]);
const gc=[BAR_R,'#000',BAR_B], gj=d3.scaleLinear().domain([-1,1]).range([-1,1]);
L(85,748,85,840.7,'#222',1);L(85,840.7,225,840.7,'#555',1.3);
L(85,gy(0),222,gy(0),'#000',1,'3,3');
axis('l',gy,85,0,[3,2,1,0,-1,-2,-3],null,5.5,'#222',.8);
svg.selectAll('g path.domain').attr('stroke','none');
gCats.forEach((c,i)=>{L(gx(c),840.7,gx(c),843.5,'#222',.8);T(gx(c),852,c,{size:7.2,fill:i==0?RED:i==2?BLUE:'#111'});
  const b=gBoxes[i],cx=gx(c),col=gc[i],hw=13.5;
  L(cx,gy(b.hi),cx,gy(b.lo),col,1);L(cx-6.5,gy(b.hi),cx+6.5,gy(b.hi),col,1);L(cx-6.5,gy(b.lo),cx+6.5,gy(b.lo),col,1);
  R(cx-hw,gy(b.q3),hw*2,gy(b.q1)-gy(b.q3),'none',col,1);L(cx-hw,gy(b.med),cx+hw,gy(b.med),col,1);
});
[gTrPts,gCoPts,gCnPts].forEach((a,i)=>svg.selectAll(null).data(a).enter().append('circle').attr('cx',d=>gx(gCats[i])+gj(d[0])).attr('cy',d=>gy(d[1])).attr('r',i==0?2.1:1.8).attr('fill',gc[i]));
T(57,794,'Expression difference',{size:8.8,rot:-90});
T(69,794,[{t:'(log'},{t:'2',sub:1},{t:' trNK/cNK)',after:1}],{size:4.6,rot:-90});

// ---------- H / I ----------
const cRed=d3.scaleLinear().domain([0,.35,.7,1]).range(['#fbf9dc','#efd4b4','#d2644f','#a81f1c']);
const cBlue=d3.scaleLinear().domain([0,.45,.8,1]).range(['#fbf9dc','#d4d4d0','#7a7cc0','#2a2e90']);
const fall=d3.scaleLinear().domain([0,.5,1,1.4,2]).range([1,.9,.42,.12,0]).clamp(true);
const peakY=(yr)=>d3.scaleLinear().domain([0,.6]).range(yr);
function heat(xa,xb,vals,speck,col){
  const kb=d3.scaleLinear().domain([-3,3]).range([xa,xb]);
  const ry=d3.scaleLinear().domain([0,30]).range([932.3,1024.3]);
  R(xa,932.3,xb-xa,92,'#fbf9dc');
  const cols=d3.range(-3,3,.14);
  const g=svg.append('g');
  vals.forEach((v,r)=>cols.forEach(c=>{const mid=c+.07,val=v*fall(Math.abs(mid)/hmHalfWidth[r]);
    if(val>.03)g.append('rect').attr('x',kb(c)).attr('y',ry(r)).attr('width',kb(.14)-kb(0)+.2).attr('height',ry(1)-ry(0)+.2).attr('fill',col(val));}));
  speck.forEach(s=>g.append('rect').attr('x',kb(s[0])).attr('y',ry(s[1]+.3)).attr('width',1.8).attr('height',1.1).attr('fill',col(s[2])));
  R(xa,932.3,xb-xa,92,'none','#222',.9);
  [xa,(xa+xb)/2,xb].forEach(x=>{L(x,930.6,x,932.3,'#222',.7);L(x,1024.3,x,1026,'#222',.7);});
}
function peakPlot(xa,xb,p,showY,yr){
  const kb=d3.scaleLinear().domain([-3,3]).range([xa,xb]),y=peakY(yr);
  const ln=d3.line().x((d,i)=>kb(peakKb[i])).y(d=>y(d*p));
  R(xa,892.3,xb-xa,26.7,'#fff','#222',.9);
  svg.append('path').attr('d',ln(peakShape)).attr('fill','none').attr('stroke','#222').attr('stroke-width',1);
  [0,.2,.4,.6].forEach(v=>{L(xa-1.5,y(v),xa,y(v),'#222',.6);if(showY)T(xa-2.5,y(v),v===0?'0':v.toFixed(1),{size:6,anchor:'end'});});
  [-3,0,3].forEach(v=>{L(kb(v),919,kb(v),920.5,'#222',.6);if(showY)T(kb(v),923,v===-3?'\u22123':v,{size:4});});
  if(showY)T(kb(0),927,'(Kb)',{size:4});
}
function peakBars(xs,w,vals,yv,axX,axEnd,axY,top){
  const y=d3.scaleLinear().domain([0,.6]).range(yv);
  L(axX,top,axX,axY,'#222',1);L(axX,axY,axEnd,axY,'#222',1);
  vals.forEach((v,i)=>R(xs[i],y(v),w,axY-y(v),i%2?BAR_B:BAR_R));
  barTicks.forEach(t=>{L(axX-2,y(t),axX,y(t),'#222',.7);T(axX-3,y(t),t.toFixed(1),{size:5.8,anchor:'end'});});
  [xs[1],xs[3]].forEach(x=>L(x,axY,x,axY+2,'#222',.7));
}
function acc(x,xa,xb,lx){
  T(x,921.7,'Accessibility',{size:7.5,anchor:'start'});
  const s=d3.scaleLinear().domain([0,1]).range([985.3,932.3]);
  [[xa,cRed],[xb,cBlue]].forEach(p=>{d3.range(0,1,.03).forEach(v=>R(p[0],s(v+.03),8,s(v)-s(v+.03)+.3,p[1](v)));R(p[0],932.3,8,53,'none','#222',.8);
    [950,968].forEach(t=>L(p[0]+8,t,p[0]+9.5,t,'#222',.6));});
  T(lx,932.3,'0.6',{size:4.8,anchor:'start'});T(lx,950,'0.4',{size:4.8,anchor:'start'});T(lx,968,'0.2',{size:4.8,anchor:'start'});
}
function sect(o){
  panel(o.letter,o.lx,870.7);
  T(o.subx,873,[{t:'(within upregulated genes in '},{t:o.who,fill:o.whoC},{t:' by PMA/Iono  stimulation)'}],{size:7.4,anchor:'start'});
  o.boxes.forEach((b,i)=>{T((b[0]+b[1])/2,885.7,i%2?'cNK':'trNK',{size:8.8,fill:i%2?BLUE:RED});
    peakPlot(b[0],b[1],o.peaks[i],i===0,[918.3,894.7]);
    heat(b[0],b[1],o.hm[i],o.speck,i%2?cBlue:cRed);});
  T(o.intX,906.7,'Intensity',{size:8,rot:-90});
  T(o.lab1x,978,[{t:'ChARs with '},{t:o.specName,fill:o.whoC},{t:' TF binding motifs'}],{size:5,rot:-90});
  T(o.lab2x,978,'ChARs with common TF binding motifs',{size:5,rot:-90});
  T(o.accX,1032.7,'Accessibility',{size:5.5});
  acc(o.ah,o.cb[0],o.cb[1],o.clx);
  T(o.pl,o.pc[0],'Peak height',{size:7.3,rot:-90});T(o.pl,o.pc[1],'Peak area',{size:7.3,rot:-90});
  peakBars(o.bx,8.3,o.h,o.hv,o.axX,o.axEnd,o.hy,890);
  peakBars(o.bx,8.3,o.a,o.av,o.axX,o.axEnd,o.ay,954);
  [[o.bx[1],o.specName+' TF'],[o.bx[3],'common TF']].forEach(p=>T(p[0]+1,o.ay+6.5,p[1],{size:5.2,anchor:'end',rot:-45}));
  R(o.lgx,o.lgy[0],8.4,8.4,BAR_R);T(o.lgx+12.5,o.lgy[0]+4.2,'trNK',{size:6.5,anchor:'start'});
  R(o.lgx,o.lgy[1],8.4,8.4,BAR_B);T(o.lgx+12.5,o.lgy[1]+4.2,'cNK',{size:6.5,anchor:'start'});
}
sect({letter:'H',lx:0,subx:24,who:'trNK',whoC:RED,specName:'trNK-specific',
 boxes:[[26,68.3],[71.3,114],[126.7,169],[172,214]],peaks:peakH,hm:[hmHTr1,hmHCn1,hmHTr2,hmHCn2],speck:speckH,intX:10,lab1x:19,lab2x:120,accX:47,ah:221,cb:[224.3,237.7],clx:250,
 pl:271.3,pc:[915,981],bx:[292,300.3,312.7,321],h:barHHeight,a:barHArea,hv:[939.3,896.7],av:[1005,956.7],axX:288.3,axEnd:333,hy:940.3,ay:1006,lgx:336.7,lgy:[890.7,901.7]});
sect({letter:'I',lx:377,subx:399.7,who:'cNK',whoC:BLUE,specName:'cNK-specific',
 boxes:[[400.7,443.7],[445.7,488.3],[501.7,544.7],[547,589.3]],peaks:peakI,hm:[hmITr1,hmICn1,hmITr2,hmICn2],speck:speckI,intX:385,lab1x:394.3,lab2x:495,accX:422,ah:594.7,cb:[598.7,612],clx:624.7,
 pl:648,pc:[917,978],bx:[669.7,678,690.3,698.7],h:barIHeight,a:barIArea,hv:[939,896.3],av:[1003.3,954.7],axX:666,axEnd:710,hy:940,ay:1004.3,lgx:716.3,lgy:[890,901]});
</script></body></html>
